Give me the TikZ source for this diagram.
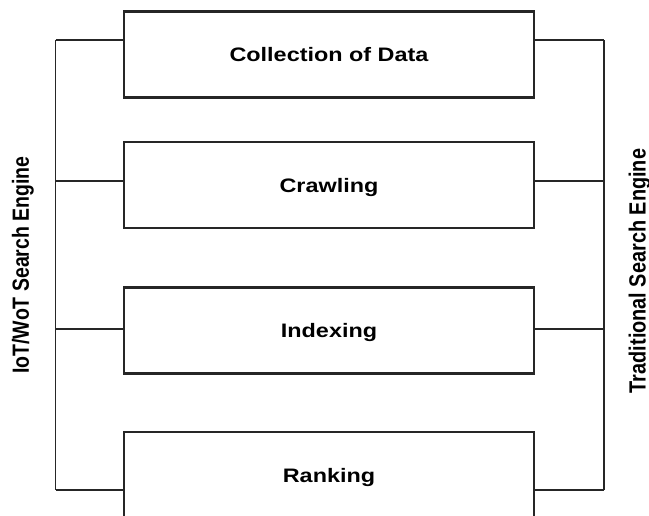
\documentclass[tikz,border=0pt]{standalone}
\usepackage{fontspec}
\setmainfont{Liberation Sans}
\begin{document}
\begin{tikzpicture}[x=1pt,y=-1pt,
  stage/.style={draw=black!85, line width=2.6pt, minimum width=410pt, minimum height=86pt,
    inner sep=0pt, text depth=0pt, font=\fontsize{19.5}{22}\selectfont\bfseries},
  link/.style={draw=black!85, line width=1.1pt},
  sidelabel/.style={rotate=90, inner sep=0pt, font=\fontsize{19.5}{22}\selectfont\bfseries}]
  \clip (0,0) rectangle (649,515);
  \useasboundingbox (0,0) rectangle (649,515);

  % processing stages
  \node[stage] (b1) at (329,54.5) {\scalebox{1.2}[1]{Collection of Data}};
  \node[stage] (b2) at (329,185) {\scalebox{1.2}[1]{Crawling}};
  \node[stage] (b3) at (329,330.5) {\scalebox{1.2}[1]{Indexing}};
  \node[stage] (b4) at (329,475) {\scalebox{1.2}[1]{Ranking}};

  % left bracket
  \coordinate (l1) at (55.5,40);
  \coordinate (l2) at (55.5,181);
  \coordinate (l3) at (55.5,329);
  \coordinate (l4) at (55.5,490);
  \draw[link] (l1) -- (l4);
  \draw[link] (l1) -- (l1 -| b1.west);
  \draw[link] (l2) -- (l2 -| b2.west);
  \draw[link] (l3) -- (l3 -| b3.west);
  \draw[link] (l4) -- (l4 -| b4.west);

  % right bracket
  \coordinate (r1) at (604,40);
  \coordinate (r2) at (604,181);
  \coordinate (r3) at (604,329);
  \coordinate (r4) at (604,490);
  \draw[link] (r1) -- (r4);
  \draw[link] (r1) -- (r1 -| b1.east);
  \draw[link] (r2) -- (r2 -| b2.east);
  \draw[link] (r3) -- (r3 -| b3.east);
  \draw[link] (r4) -- (r4 -| b4.east);

  % side labels
  \node[sidelabel] (iot) at (23,265) {\scalebox{1}[1.2]{IoT/WoT Search Engine}};
  \node[sidelabel] (trad) at (639.5,271) {\scalebox{1.02}[1.2]{Traditional Search Engine}};
\end{tikzpicture}
\end{document}
